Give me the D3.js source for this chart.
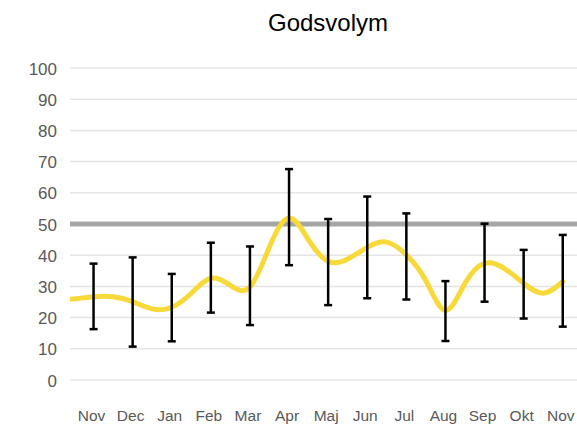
<!DOCTYPE html>
<html>
<head>
<meta charset="utf-8">
<script src="https://cdn.jsdelivr.net/npm/d3@7"></script>
<style>
  body { margin: 0; background: #fff; }
  text { font-family: 'Liberation Sans', Arial, sans-serif; }
</style>
</head>
<body>
<div id="chart"></div>
<script>
// Datos
var months = ['Nov', 'Dec', 'Jan', 'Feb', 'Mar', 'Apr', 'Maj', 'Jun', 'Jul', 'Aug', 'Sep', 'Okt', 'Nov']
// centro de cada barra de error y su error (+/-)
var values = [26.8, 25.0, 23.2, 32.8, 30.2, 52.2, 37.8, 42.5, 39.6, 22.1, 37.6, 30.7, 31.8]
var errors = [10.5, 14.3, 10.8, 11.2, 12.6, 15.4, 13.8, 16.3, 13.8, 9.6, 12.5, 11.0, 14.7]
// linea amarilla: leida cada medio mes (posicion = indice del mes)
var linePos = [-1, -0.5, 0, 0.5, 1, 1.5, 2, 2.5, 3, 3.5, 4, 4.5, 5, 5.5, 6, 6.5, 7, 7.5, 8, 8.5, 9, 9.5, 10, 10.5, 11, 11.5, 12]
var lineVal = [25.3, 26.0, 26.7, 26.7, 25.1, 22.8, 23.3, 27.8, 32.6, 30.3, 29.8, 42.7, 51.9, 44.9, 38.0, 38.8, 42.5, 44.2, 40.1, 31.8, 22.3, 31.0, 37.4, 35.8, 31.0, 27.8, 31.5]
var target = 50
var yTicks = [0, 10, 20, 30, 40, 50, 60, 70, 80, 90, 100]

var width = 577
var height = 424
var plotLeft = 70
var plotTop = 68
var plotBottom = 380

var svg = d3.select('#chart').append('svg')
  .attr('width', width)
  .attr('height', height)

// escalas
var x = d3.scaleLinear().domain([-0.5, months.length - 0.5]).range([74, 582.3])
var y = d3.scaleLinear().domain([0, 100]).range([plotBottom, plotTop])

svg.append('defs').append('clipPath').attr('id', 'clip')
  .append('rect')
  .attr('x', plotLeft).attr('y', 0)
  .attr('width', width - plotLeft).attr('height', height)

// titulo
svg.append('text')
  .attr('x', 328)
  .attr('y', 31)
  .attr('text-anchor', 'middle')
  .style('font-size', '24px')
  .attr('fill', '#000')
  .text('Godsvolym')

// lineas de la rejilla
svg.append('g').selectAll('line')
  .data(yTicks)
  .enter()
  .append('line')
  .attr('x1', plotLeft)
  .attr('x2', width)
  .attr('y1', (d) => y(d))
  .attr('y2', (d) => y(d))
  .attr('stroke', '#e4e4e4')
  .attr('stroke-width', 1.5)

// eje Y
var yaxis = d3.axisLeft(y).tickValues(yTicks).tickSize(0).tickPadding(0)
var gy = svg.append('g').attr('transform', 'translate(57,0)').call(yaxis)
gy.select('.domain').remove()
gy.selectAll('text').style('font-size', '17px').attr('fill', '#595959').attr('dy', '0.36em')

// eje X
svg.append('g').selectAll('text')
  .data(months)
  .enter()
  .append('text')
  .attr('x', (d, i) => x(i) - 2)
  .attr('y', 421)
  .attr('text-anchor', 'middle')
  .style('font-size', '15.5px')
  .attr('fill', '#595959')
  .text((d) => d)

// linea objetivo 50
svg.append('line')
  .attr('x1', plotLeft)
  .attr('x2', width)
  .attr('y1', y(target))
  .attr('y2', y(target))
  .attr('stroke', '#a5a5a5')
  .attr('stroke-width', 5)

// linea suavizada
var points = linePos.map((p, i) => [p, lineVal[i]])
var line = d3.line()
  .x((d) => x(d[0]))
  .y((d) => y(d[1]))
  .curve(d3.curveNatural)

svg.append('path')
  .datum(points)
  .attr('clip-path', 'url(#clip)')
  .attr('d', line)
  .attr('fill', 'none')
  .attr('stroke', '#f7d93a')
  .attr('stroke-width', 5)
  .attr('stroke-linecap', 'round')

// barras de error
var eb = svg.append('g').selectAll('g')
  .data(values)
  .enter()
  .append('g')

eb.append('line')
  .attr('x1', (d, i) => x(i))
  .attr('x2', (d, i) => x(i))
  .attr('y1', (d, i) => y(d + errors[i]))
  .attr('y2', (d, i) => y(d - errors[i]))
  .attr('stroke', '#000')
  .attr('stroke-width', 2.5)

eb.append('line')
  .attr('x1', (d, i) => x(i) - 4)
  .attr('x2', (d, i) => x(i) + 4)
  .attr('y1', (d, i) => y(d + errors[i]))
  .attr('y2', (d, i) => y(d + errors[i]))
  .attr('stroke', '#000')
  .attr('stroke-width', 2.5)

eb.append('line')
  .attr('x1', (d, i) => x(i) - 4)
  .attr('x2', (d, i) => x(i) + 4)
  .attr('y1', (d, i) => y(d - errors[i]))
  .attr('y2', (d, i) => y(d - errors[i]))
  .attr('stroke', '#000')
  .attr('stroke-width', 2.5)
</script>
</body>
</html>
